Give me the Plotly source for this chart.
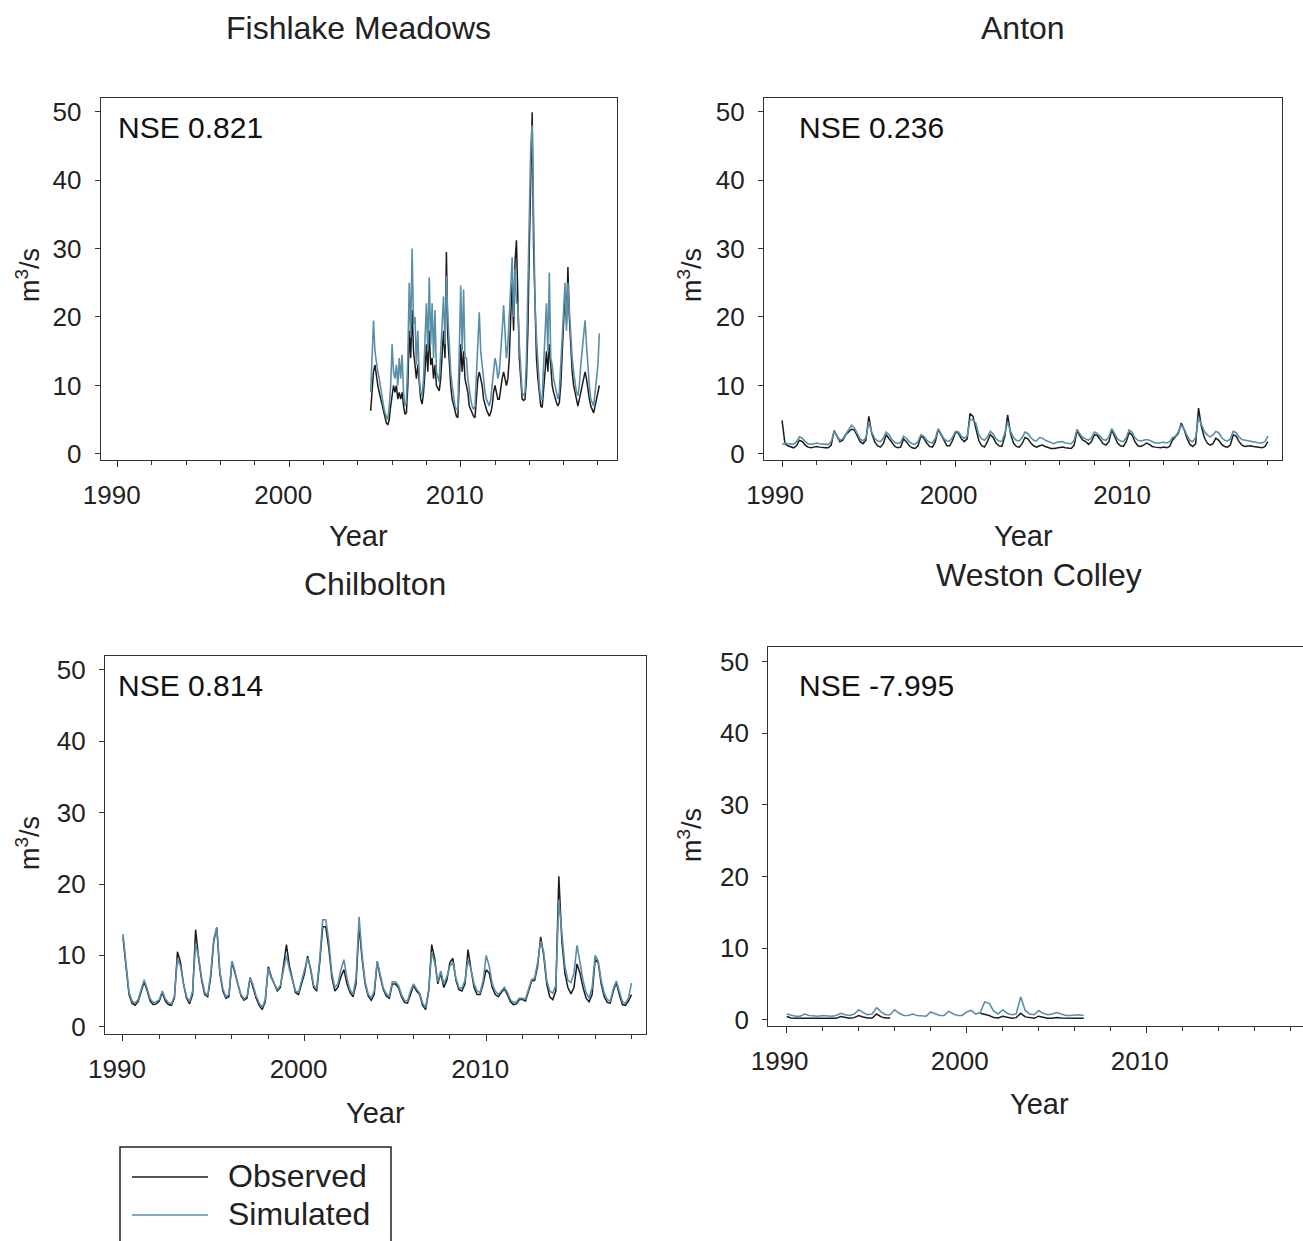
import plotly.graph_objects as go

W, H = 1303, 1241
FONT = "Liberation Sans, Arial, sans-serif"
OBS_COLOR = "#1c1c1c"
SIM_COLOR = "#5a8fa8"

# ---------------- data ----------------
# Fishlake Meadows: monthly values, starting Oct 2004
fish_start, fish_step = 2004.75, 1 / 12
fish_obs = [
    6.3, 10, 12,                                              # 2004 Oct-Dec
    13, 11, 10, 9, 8, 7, 6, 5, 4.5, 4.3, 5, 7,                # 2005
    9, 10, 9, 10, 8, 9, 8, 9, 7, 5.8, 6, 10,                  # 2006
    18, 14, 21, 15, 13, 11, 13, 10, 8, 7.3, 9, 12,            # 2007
    16, 12, 18, 13, 14, 11, 13, 10, 9.5, 9.2, 11, 14,         # 2008
    18, 14, 29.5, 17, 13, 10, 8, 7, 6, 5.5, 5.3, 10,          # 2009
    16, 12, 15, 11, 10, 9, 7, 6.5, 6, 5.5, 5.3, 8,            # 2010
    11, 12, 11, 10, 8, 7, 6.5, 6, 5.5, 6, 7, 9,               # 2011
    10, 9, 8, 8, 10, 11, 12, 11, 10, 11, 14, 20,              # 2012
    25, 18, 28, 31.2, 20, 14, 11, 8, 7.8, 8, 11, 18,          # 2013
    30, 42, 49.9, 30, 20, 14, 11, 9, 7, 6.8, 9, 12,           # 2014
    15, 12, 16, 12, 10, 9, 8, 7.5, 7, 7.5, 10, 14,            # 2015
    20, 24, 19, 27.3, 20, 15, 12, 10, 9, 8, 7, 8,             # 2016
    9, 10, 11, 12, 11, 9, 8, 7, 6.5, 6, 7, 8,                 # 2017
    9, 10,                                                    # 2018 Jan-Feb
]
fish_sim = [
    9, 14, 19.5,
    15, 13, 12, 11, 9.5, 8, 7, 6, 5.5, 5, 7, 10,
    16, 12, 11, 13, 10, 14, 11, 14.5, 9, 7, 7.5, 14,
    25, 17, 30, 19, 20, 13, 18, 11, 9, 8.5, 11, 17,
    22, 15, 25.8, 16, 22, 14, 21, 12, 11, 10.5, 15, 20,
    23, 16, 26, 20, 15, 12, 10, 8, 7, 6.5, 6.5, 15,
    24.6, 15, 24, 14, 14, 11, 9, 8, 7, 6.5, 7, 12,
    16, 20.7, 15, 13, 10, 9, 8, 7.5, 7, 8, 10, 13,
    14, 13, 11, 12, 16, 18, 21.7, 17, 14, 16, 20, 26,
    28.7, 20, 27, 22, 22, 16, 12, 9, 8.5, 9, 14, 24,
    35, 45, 48, 33, 22, 17, 13, 10, 8, 8, 13, 18,
    22, 15, 26.5, 14, 13, 11, 10, 9, 8, 9, 13, 19,
    23, 25, 18, 25, 21, 17, 14, 12, 10, 9, 8.5, 10,
    13, 15, 17, 19.5, 16, 12, 10, 8, 7.5, 7, 9, 11,
    13, 17.6,
]

# Anton: two-monthly values from Jan 1990
anton_start, anton_step = 1990.0, 1 / 6
anton_obs = [
    4.9, 1.5, 1.2, 1.0, 0.9, 1.2,   # 1990
    2.0, 1.8, 1.3, 1.0, 0.9, 1.0,   # 1991
    1.1, 1.0, 0.9, 0.9, 0.9, 1.3,   # 1992
    3.4, 2.5, 1.8, 2.0, 2.8, 3.2,   # 1993
    3.6, 3.5, 2.6, 1.8, 1.5, 2.0,   # 1994
    5.5, 3.0, 1.8, 1.2, 1.0, 1.5,   # 1995
    2.8, 2.2, 1.6, 1.1, 0.9, 1.0,   # 1996
    2.2, 1.8, 1.2, 0.9, 0.8, 1.2,   # 1997
    2.6, 2.3, 1.6, 1.1, 1.0, 1.8,   # 1998
    3.6, 2.8, 1.8, 1.2, 1.2, 2.0,   # 1999
    3.2, 3.0, 2.2, 1.8, 2.2, 5.9,   # 2000
    5.5, 3.5, 2.0, 1.2, 1.0, 1.8,   # 2001
    2.8, 2.4, 1.6, 1.2, 1.1, 2.5,   # 2002
    5.7, 3.0, 1.6, 1.1, 1.0, 1.5,   # 2003
    2.4, 2.2, 1.6, 1.2, 1.0, 1.2,   # 2004
    1.3, 1.1, 0.9, 0.8, 0.8, 0.9,   # 2005
    0.9, 1.0, 0.9, 0.8, 0.8, 1.3,   # 2006
    3.4, 2.6, 2.0, 1.8, 1.4, 1.8,   # 2007
    2.8, 2.7, 2.0, 1.5, 1.3, 1.8,   # 2008
    3.5, 2.6, 1.6, 1.2, 1.1, 1.8,   # 2009
    3.1, 2.8, 1.8, 1.2, 1.1, 1.3,   # 2010
    1.6, 1.4, 1.1, 1.0, 0.9, 0.9,   # 2011
    1.0, 0.9, 1.1, 2.0, 2.5, 3.0,   # 2012
    4.5, 3.6, 2.3, 1.4, 1.1, 1.5,   # 2013
    6.7, 4.0, 2.4, 1.6, 1.3, 1.5,   # 2014
    2.3, 2.0, 1.4, 1.1, 1.0, 1.3,   # 2015
    2.8, 2.6, 1.8, 1.3, 1.1, 1.2,   # 2016
    1.2, 1.1, 1.0, 0.9, 0.9, 1.1,   # 2017
    1.8,                            # 2018
]
anton_sim = [
    1.4, 1.6, 1.5, 1.4, 1.4, 1.8,
    2.5, 2.3, 1.8, 1.5, 1.4, 1.5,
    1.6, 1.5, 1.4, 1.4, 1.4, 1.8,
    3.3, 2.6, 2.0, 2.2, 2.9, 3.4,
    4.2, 3.8, 2.9, 2.2, 1.9, 2.4,
    4.7, 3.2, 2.3, 1.9, 1.8, 2.3,
    3.2, 2.8, 2.1, 1.7, 1.5, 1.7,
    2.6, 2.3, 1.8, 1.5, 1.4, 1.8,
    2.8, 2.6, 2.0, 1.7, 1.6, 2.3,
    3.7, 3.0, 2.2, 1.9, 1.9, 2.5,
    3.3, 3.2, 2.6, 2.3, 2.6, 5.0,
    5.0, 4.5, 2.8, 2.2, 2.0, 2.5,
    3.3, 2.9, 2.2, 1.9, 1.8, 3.0,
    4.7, 3.3, 2.4, 2.0, 1.9, 2.4,
    3.2, 3.0, 2.4, 2.0, 1.9, 2.4,
    2.3, 2.0, 1.8, 1.6, 1.5, 1.7,
    1.7, 1.8, 1.6, 1.5, 1.5, 2.0,
    3.6, 2.9, 2.4, 2.2, 2.0, 2.4,
    3.2, 3.0, 2.5, 2.1, 2.0, 2.5,
    3.7, 3.0, 2.2, 1.9, 1.8, 2.4,
    3.5, 3.2, 2.4, 2.0, 1.9, 2.0,
    2.1, 2.0, 1.8, 1.6, 1.6, 1.7,
    1.7, 1.6, 1.8, 2.4, 2.6, 3.2,
    4.2, 3.7, 2.7, 2.0, 1.8, 2.4,
    5.3, 4.3, 3.3, 2.8, 2.5, 2.8,
    3.3, 3.1, 2.4, 2.0, 1.9, 2.2,
    3.3, 3.1, 2.5, 2.1, 2.0, 2.0,
    1.9, 1.8, 1.7, 1.6, 1.6, 1.8,
    2.6,
]

# Chilbolton: two-monthly values from Jan 1990
chil_start, chil_step = 1990.0, 1 / 6
chil_obs = [
    12.5, 8.0, 4.5, 3.3, 3.0, 3.5,    # 1990
    5.0, 6.3, 5.0, 3.6, 3.1, 3.2,     # 1991
    3.6, 4.8, 3.6, 3.1, 3.0, 4.0,     # 1992
    10.5, 9.0, 6.0, 4.0, 3.2, 4.5,    # 1993
    13.6, 9.5, 6.5, 4.5, 4.2, 7.0,    # 1994
    12.0, 13.9, 7.5, 5.0, 4.0, 4.2,   # 1995
    9.1, 7.5, 5.5, 4.3, 3.7, 4.0,     # 1996
    6.9, 5.5, 4.0, 3.0, 2.4, 3.5,     # 1997
    8.4, 7.0, 6.1, 5.0, 5.5, 8.5,     # 1998
    11.5, 8.5, 6.5, 4.8, 4.5, 6.0,    # 1999
    7.5, 9.9, 8.0, 5.5, 5.0, 9.0,     # 2000
    14.0, 14.0, 11.0, 7.0, 5.0, 5.5,  # 2001
    7.0, 8.0, 6.0, 4.8, 4.2, 6.0,     # 2002
    14.2, 9.5, 6.0, 4.3, 3.7, 4.5,    # 2003
    9.1, 7.0, 5.2, 4.3, 4.0, 6.0,     # 2004
    6.0, 5.5, 4.2, 3.4, 3.3, 4.5,     # 2005
    5.8, 5.0, 4.5, 3.0, 2.4, 5.0,     # 2006
    11.5, 9.5, 6.0, 7.5, 5.5, 6.5,    # 2007
    9.0, 9.6, 6.5, 5.2, 5.0, 6.0,     # 2008
    10.8, 8.0, 5.5, 4.5, 4.5, 6.0,    # 2009
    8.0, 7.5, 5.5, 4.5, 4.2, 4.8,     # 2010
    5.3, 4.5, 3.5, 3.1, 3.2, 3.8,     # 2011
    3.8, 3.6, 5.0, 6.4, 6.5, 8.5,     # 2012
    12.6, 10.0, 6.0, 4.2, 3.8, 5.0,   # 2013
    21.1, 12.0, 7.5, 5.5, 4.6, 5.5,   # 2014
    8.8, 7.5, 5.5, 4.0, 3.5, 4.5,     # 2015
    9.4, 9.0, 6.0, 4.2, 3.4, 3.3,     # 2016
    5.0, 6.2, 4.5, 3.1, 3.0, 3.6,     # 2017
    4.5,                              # 2018
]
chil_sim = [
    13.0, 8.5, 4.8, 3.6, 3.3, 3.8,
    5.4, 6.6, 5.3, 3.9, 3.4, 3.5,
    3.8, 5.0, 3.9, 3.4, 3.2, 4.3,
    9.5, 8.5, 6.0, 4.2, 3.5, 5.0,
    11.6, 9.8, 6.8, 4.8, 4.4, 7.5,
    12.3, 13.9, 7.8, 5.3, 4.2, 4.5,
    9.2, 7.8, 5.8, 4.5, 3.9, 4.3,
    6.9, 5.8, 4.3, 3.3, 2.7, 3.8,
    8.2, 6.8, 6.0, 5.2, 5.8, 8.0,
    10.0, 8.0, 6.5, 5.0, 4.8, 6.3,
    7.8, 9.6, 8.2, 5.8, 5.3, 9.5,
    15.0, 15.0, 12.0, 7.5, 5.5, 6.0,
    8.0, 9.4, 6.8, 5.2, 4.5, 6.8,
    15.4, 10.0, 6.3, 4.6, 4.0, 5.0,
    9.2, 7.2, 5.4, 4.6, 4.3, 6.3,
    6.3, 5.8, 4.5, 3.7, 3.6, 5.0,
    6.0, 5.3, 4.7, 3.3, 2.7, 5.2,
    10.4, 9.0, 6.3, 7.8, 6.0, 7.0,
    8.5, 9.0, 6.8, 5.5, 5.4, 6.5,
    9.4, 8.0, 6.0, 5.0, 4.8, 6.5,
    10.0, 8.5, 6.0, 5.0, 4.5, 5.0,
    5.5, 4.8, 3.8, 3.4, 3.5, 4.0,
    4.0, 3.9, 5.3, 6.6, 6.8, 9.0,
    12.0, 10.5, 6.5, 5.0, 4.7, 5.8,
    17.8, 12.5, 8.5, 6.5, 6.2, 7.5,
    11.4, 9.0, 6.5, 4.8, 4.0, 5.5,
    10.0, 9.2, 6.5, 4.7, 3.8, 3.6,
    5.3, 6.4, 4.8, 3.5, 3.3, 4.0,
    6.1,
]

# Weston Colley: quarterly values from Jan 1990 (None = no observations)
west_start, west_step = 1990.0, 1 / 4
west_obs = [
    0.45, 0.25, 0.2, 0.2,     # 1990
    0.3, 0.25, 0.2, 0.2,      # 1991
    0.25, 0.2, 0.2, 0.2,      # 1992
    0.45, 0.3, 0.2, 0.3,      # 1993
    0.6, 0.4, 0.25, 0.25,     # 1994
    0.8, 0.4, 0.25, 0.25,     # 1995
    None, None, None, None,   # 1996
    None, None, None, None,   # 1997
    None, None, None, None,   # 1998
    None, None, None, None,   # 1999
    None, None, None, 0.9,    # 2000
    0.8, 0.6, 0.3, 0.25,      # 2001
    0.5, 0.3, 0.2, 0.3,       # 2002
    0.9, 0.4, 0.25, 0.2,      # 2003
    0.5, 0.3, 0.2, 0.2,       # 2004
    0.3, 0.25, 0.2, 0.2,      # 2005
    0.2, 0.2, 0.2,            # 2006
]
west_sim = [
    0.8, 0.6, 0.5, 0.5,
    0.8, 0.6, 0.5, 0.5,
    0.6, 0.5, 0.5, 0.6,
    0.9, 0.7, 0.6, 0.8,
    1.4, 1.0, 0.7, 0.8,
    1.7, 1.1, 0.7, 0.7,
    1.4, 0.9, 0.6, 0.6,
    0.8, 0.6, 0.5, 0.5,
    1.1, 0.8, 0.6, 0.6,
    1.2, 0.8, 0.6, 0.6,
    1.1, 1.3, 0.8, 1.0,
    2.5, 2.3, 1.2, 0.8,
    1.4, 0.9, 0.7, 0.8,
    3.2, 1.3, 0.8, 0.7,
    1.3, 0.9, 0.7, 0.8,
    1.0, 0.8, 0.6, 0.6,
    0.7, 0.7, 0.6,
]

titles = ["Fishlake Meadows", "Anton", "Chilbolton", "Weston Colley"]
nse_labels = ["NSE 0.821", "NSE 0.236", "NSE 0.814", "NSE -7.995"]
legend_names = ["Observed", "Simulated"]
y_ticks = [0, 10, 20, 30, 40, 50]
x_ticks = [1990, 2000, 2010]
x_minor_ticks = list(range(1990, 2019, 2))

series = [
    (fish_start, fish_step, fish_obs, fish_sim),
    (anton_start, anton_step, anton_obs, anton_sim),
    (chil_start, chil_step, chil_obs, chil_sim),
    (west_start, west_step, west_obs, west_sim),
]

# ---------------- layout geometry (pixels) ----------------
panels = [
    dict(x0=100.7, x1=617.3, y0=98.3, y1=460.0, xr=[1989.01, 2019.13], yr=[-0.88, 51.93],
         shift=-6, title=(358, 28), nse=(116, 128), year=(358, 536), ylab=(28, 275)),
    dict(x0=764.0, x1=1282.0, y0=98.3, y1=460.0, xr=[1988.96, 2018.81], yr=[-0.88, 51.93],
         shift=-7, title=(1023, 28), nse=(797, 128), year=(1023, 536), ylab=(690, 275)),
    dict(x0=105.0, x1=646.0, y0=656.0, y1=1034.0, xr=[1989.01, 2018.8], yr=[-1.02, 51.96],
         shift=-6, title=(375, 584), nse=(116, 685), year=(375, 1113), ylab=(28, 843)),
    dict(x0=768.3, x1=1303.0, y0=646.7, y1=1025.5, xr=[1988.98, 2018.68], yr=[-0.8, 52.1],
         shift=-7, title=(1039, 575), nse=(797, 685), year=(1039, 1104), ylab=(690, 835)),
]
# legend box geometry (pixels)
LEG_BOX = (120, 1147, 391, 1262)
LEG_ROWS = [1177, 1215]
LEG_LINE_X = (132, 208)
LEG_TEXT_X = 226


def px(x):
    return x / W


def py(y):
    return 1 - y / H


fig = go.Figure()
layout = dict(
    template="none",
    width=W, height=H, margin=dict(l=0, r=0, t=0, b=0, pad=0, autoexpand=False),
    paper_bgcolor="white", plot_bgcolor="white",
    font=dict(family=FONT, color="#222"),
    showlegend=False,
)
annotations = []
shapes = []

for k, (p, (t0, dt, obs, sim)) in enumerate(zip(panels, series)):
    sfx = "" if k == 0 else str(k + 1)
    xid, yid = "x" + sfx, "y" + sfx
    x_obs = [t0 + i * dt for i in range(len(obs))]
    x_sim = [t0 + i * dt for i in range(len(sim))]
    fig.add_trace(go.Scatter(x=x_obs, y=obs, xaxis=xid, yaxis=yid, mode="lines",
                             line=dict(color=OBS_COLOR, width=1.5), name="Observed",
                             connectgaps=False))
    fig.add_trace(go.Scatter(x=x_sim, y=sim, xaxis=xid, yaxis=yid, mode="lines",
                             line=dict(color=SIM_COLOR, width=1.6), name="Simulated"))
    axis_common = dict(showline=True, mirror=True, linecolor="#333", linewidth=1.3,
                       showgrid=False, zeroline=False, ticks="outside", tickcolor="#333",
                       tickwidth=1.3, automargin=False,
                       tickfont=dict(size=26, family=FONT, color="#222"))
    layout["xaxis" + sfx] = dict(
        domain=[px(p["x0"]), px(p["x1"])], range=p["xr"], anchor=yid,
        tickmode="array", tickvals=x_ticks, ticklen=6, ticklabelstandoff=6,
        ticklabelshift=p["shift"],
        minor=dict(tickmode="array", tickvals=x_minor_ticks, ticks="outside",
                   ticklen=4, tickcolor="#333", showgrid=False),
        **axis_common)
    layout["yaxis" + sfx] = dict(
        domain=[py(p["y1"]), py(p["y0"])], range=p["yr"], anchor=xid,
        tickmode="array", tickvals=y_ticks, ticklen=5, ticklabelstandoff=8,
        **axis_common)

    annotations.append(dict(text=titles[k], x=px(p["title"][0]), y=py(p["title"][1]),
                            xref="paper", yref="paper", showarrow=False,
                            xanchor="center", yanchor="middle",
                            font=dict(size=32, family=FONT, color="#222")))
    annotations.append(dict(text=nse_labels[k], x=px(p["nse"][0]), y=py(p["nse"][1]),
                            xref="paper", yref="paper", showarrow=False,
                            xanchor="left", yanchor="middle",
                            font=dict(size=30, family=FONT, color="#111")))
    annotations.append(dict(text="Year", x=px(p["year"][0]), y=py(p["year"][1]),
                            xref="paper", yref="paper", showarrow=False,
                            xanchor="center", yanchor="middle",
                            font=dict(size=29, family=FONT, color="#222")))
    annotations.append(dict(text="m<sup>3</sup>/s", x=px(p["ylab"][0]), y=py(p["ylab"][1]),
                            xref="paper", yref="paper", showarrow=False, textangle=-90,
                            xanchor="center", yanchor="middle",
                            font=dict(size=27, family=FONT, color="#222")))

# legend (box, line samples and labels)
shapes.append(dict(type="rect", xref="paper", yref="paper",
                   x0=px(LEG_BOX[0]), x1=px(LEG_BOX[2]), y0=py(LEG_BOX[3]), y1=py(LEG_BOX[1]),
                   line=dict(color="#222", width=1.5), fillcolor="white", layer="above"))
for row_y, color, name in zip(LEG_ROWS, [OBS_COLOR, SIM_COLOR], legend_names):
    shapes.append(dict(type="line", xref="paper", yref="paper",
                       x0=px(LEG_LINE_X[0]), x1=px(LEG_LINE_X[1]), y0=py(row_y), y1=py(row_y),
                       line=dict(color=color, width=1.6), layer="above"))
    annotations.append(dict(text=name, x=px(LEG_TEXT_X), y=py(row_y - 1),
                            xref="paper", yref="paper", showarrow=False,
                            xanchor="left", yanchor="middle",
                            font=dict(size=32, family=FONT, color="#222")))

layout["annotations"] = annotations
layout["shapes"] = shapes
fig.update_layout(**layout)
fig.write_html("out.html")
